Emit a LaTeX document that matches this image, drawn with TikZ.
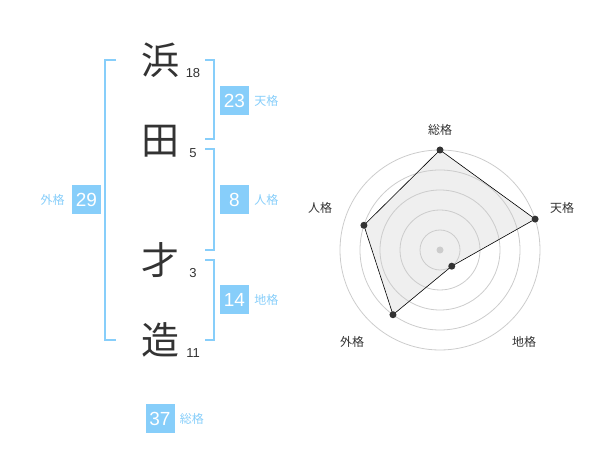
\documentclass[tikz,border=0pt]{standalone}
\usepackage{fontspec}
\setmainfont{Liberation Sans}
\newfontfamily\jpfont{Noto Sans CJK JP}
\usetikzlibrary{positioning}

\definecolor{kakublue}{RGB}{135,206,250}
\definecolor{kakutext}{RGB}{51,51,51}
\definecolor{ringgray}{RGB}{204,204,204}
\definecolor{areagray}{RGB}{239,239,239}

\begin{document}
\begin{tikzpicture}[x=1pt,y=-1pt,
    kanji/.style={text=kakutext,font=\jpfont\fontsize{38}{38}\selectfont,inner sep=0pt},
    stroke/.style={text=kakutext,font=\fontsize{13}{13}\selectfont,inner sep=0pt},
    kakubox/.style={fill=kakublue,text=white,minimum size=29pt,inner sep=0pt,font=\fontsize{19}{19}\selectfont},
    kakuname/.style={text=kakublue,font=\jpfont\fontsize{12}{12}\selectfont,inner sep=0pt},
    radarname/.style={text=kakutext,font=\jpfont\fontsize{12}{12}\selectfont,inner sep=0pt},
    bracket/.style={draw=kakublue,line width=1.8pt}]
                \useasboundingbox (0,0) rectangle (600,470);
                \node[kanji] (hama) at (160,60) {浜};
                \node[kanji] (ta) at (160,141) {田};
                \node[kanji] (sai) at (160,260) {才};
                \node[kanji] (zou) at (160,340) {造};
                \node[stroke] (hamanum) at (193,73) {18};
                \node[stroke] (tanum) at (193,153) {5};
                \node[stroke] (sainum) at (193,273) {3};
                \node[stroke] (zounum) at (193,353) {11};
                \draw[bracket] (116,60) -- (105,60) -- (105,340) -- (116,340);
                \draw[bracket] (205,60) -- (214,60) -- (214,139) -- (205,139);
                \draw[bracket] (205,149) -- (214,149) -- (214,250) -- (205,250);
                \draw[bracket] (205,260) -- (214,260) -- (214,340) -- (205,340);
                \node[kakubox] (tenbox) at (234.5,100.5) {23};
                \node[kakuname,right=5pt of tenbox] (tenname) {天格};
                \node[kakubox] (jinbox) at (234.5,200) {8};
                \node[kakuname,right=5pt of jinbox] (jinname) {人格};
                \node[kakubox] (chibox) at (234.5,300) {14};
                \node[kakuname,right=5pt of chibox] (chiname) {地格};
                \node[kakubox] (gaibox) at (86.5,200) {29};
                \node[kakuname,left=7pt of gaibox] (gainame) {外格};
                \node[kakubox] (sobox) at (160,418.5) {37};
                \node[kakuname,right=5pt of sobox] (soname) {総格};
                \coordinate (c) at (440,250);
                \coordinate (so) at ([shift={(-90:100)}]c);
                \coordinate (ten) at ([shift={(-18:100)}]c);
                \coordinate (chi) at ([shift={(54:20)}]c);
                \coordinate (gai) at ([shift={(126:80)}]c);
                \coordinate (jin) at ([shift={(-162:80)}]c);
                \fill[areagray] (so) -- (ten) -- (chi) -- (gai) -- (jin) -- cycle;
                \foreach \r in {20,40,...,100}
                    \draw[ringgray,line width=0.8pt] (c) circle[radius=\r pt];
                \fill[ringgray] (c) circle[radius=3.5pt];
                \draw[black,line width=0.6pt] (so) -- (ten) -- (chi) -- (gai) -- (jin) -- cycle;
                \foreach \p in {so,ten,chi,gai,jin}
                    \fill[kakutext] (\p) circle[radius=3.5pt];
                \node[radarname] (radarso) at (440,130) {総格};
                \node[radarname] (radarten) at (562,208) {天格};
                \node[radarname] (radarchi) at (524,342) {地格};
                \node[radarname] (radargai) at (352,342) {外格};
                \node[radarname] (radarjin) at (320,208) {人格};
            \end{tikzpicture}
\end{document}
